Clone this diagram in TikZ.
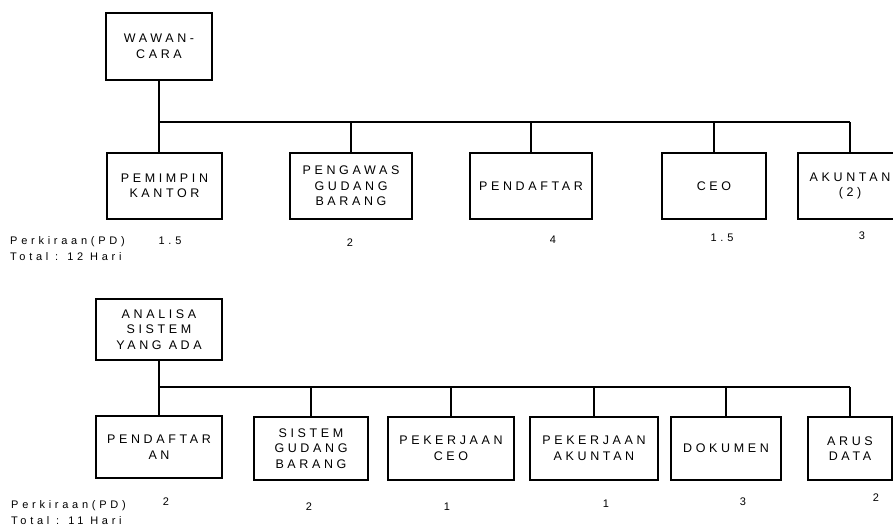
\documentclass[tikz,border=0pt]{standalone}
\usepackage{fontspec}
\newfontfamily\boxfont[LetterSpace=29]{Liberation Sans}
\newfontfamily\notefont[LetterSpace=34]{Liberation Sans}
\begin{document}
\begin{tikzpicture}[x=1pt,y=-1pt,
           box_style/.style={rectangle,draw=black,line width=1.6pt,align=center,inner sep=0pt,
                             font=\fontsize{12.5}{15.5}\boxfont},
           link_style/.style={draw=black,line width=1.6pt},
           num_style/.style={font=\fontsize{11}{16}\notefont},
           note_style/.style={anchor=west,align=left,inner sep=0pt,font=\fontsize{11}{16}\notefont}]
            \clip (0,0) rectangle (893,525);
            % wawancara
            \node[box_style,minimum width=106pt,minimum height=67pt] (wawan) at (159, 46.5) {WAWAN-\\CARA};
            \node[box_style,minimum width=115pt,minimum height=66pt] (pemimpin) at (164.5, 186) {PEMIMPIN\\KANTOR};
            \node[box_style,minimum width=122pt,minimum height=66pt] (pengawas) at (351, 186) {PENGAWAS\\GUDANG\\BARANG};
            \node[box_style,minimum width=122pt,minimum height=66pt] (pendaftar) at (531, 186) {PENDAFTAR};
            \node[box_style,minimum width=104pt,minimum height=66pt] (ceo) at (714, 186) {CEO};
            \node[box_style,minimum width=104pt,minimum height=66pt] (akuntan) at (850, 186) {AKUNTAN\\(2)};
            \coordinate (bar1) at (159, 122);
            \draw[link_style]  (wawan.south) -- (bar1) -- (bar1 -| akuntan.north);
            \draw[link_style]  (pemimpin.north -| bar1) -- (bar1);
            \foreach \n in {pengawas,pendaftar,ceo,akuntan}
                \draw[link_style]  (\n.north) -- (\n.north |- bar1);
            \node[note_style] (note1) at (10, 249) {Perkiraan(PD)\\Total : 12 Hari};
            \node[num_style] (n11) at (170, 241) {1.5};
            \node[num_style] (n12) at (350, 243) {2};
            \node[num_style] (n13) at (553, 240) {4};
            \node[num_style] (n14) at (722, 238) {1.5};
            \node[num_style] (n15) at (862, 236) {3};
            % analisa sistem
            \node[box_style,minimum width=126pt,minimum height=61pt] (analisa) at (159, 329.5) {ANALISA\\SISTEM\\YANG ADA};
            \node[box_style,minimum width=126pt,minimum height=62pt] (pendaftaran) at (159, 447) {PENDAFTAR\\AN};
            \node[box_style,minimum width=114pt,minimum height=63pt] (sistem) at (311, 448.5) {SISTEM\\GUDANG\\BARANG};
            \node[box_style,minimum width=126pt,minimum height=63pt] (kerjaceo) at (451, 448.5) {PEKERJAAN\\CEO};
            \node[box_style,minimum width=128pt,minimum height=63pt] (kerjaakt) at (594, 448.5) {PEKERJAAN\\AKUNTAN};
            \node[box_style,minimum width=110pt,minimum height=63pt] (dokumen) at (726, 448.5) {DOKUMEN};
            \node[box_style,minimum width=84pt,minimum height=63pt] (arus) at (850, 448.5) {ARUS\\DATA};
            \coordinate (bar2) at (159, 387);
            \draw[link_style]  (analisa.south) -- (bar2) -- (bar2 -| arus.north);
            \foreach \n in {pendaftaran,sistem,kerjaceo,kerjaakt,dokumen,arus}
                \draw[link_style]  (\n.north) -- (\n.north |- bar2);
            \node[note_style] (note2) at (11, 512.5) {Perkiraan(PD)\\Total : 11 Hari};
            \node[num_style] (n21) at (166, 502) {2};
            \node[num_style] (n22) at (309, 507) {2};
            \node[num_style] (n23) at (447, 507) {1};
            \node[num_style] (n24) at (606, 504) {1};
            \node[num_style] (n25) at (743, 502) {3};
            \node[num_style] (n26) at (876, 498) {2};
        \end{tikzpicture}
\end{document}
